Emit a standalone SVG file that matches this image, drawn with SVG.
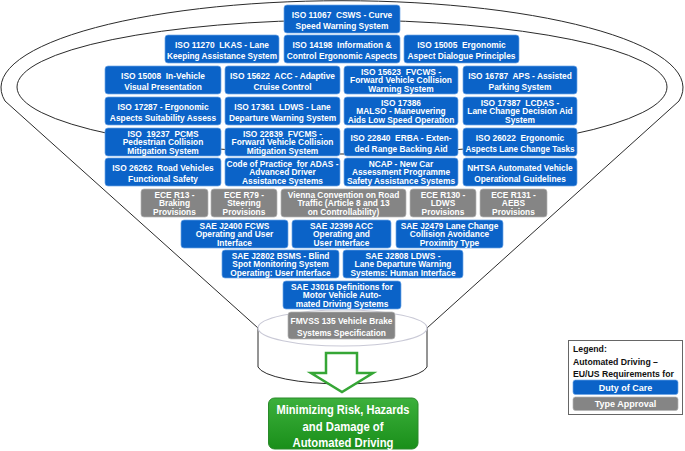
<svg xmlns="http://www.w3.org/2000/svg" width="685" height="451" viewBox="0 0 685 451">
<defs>
<linearGradient id="gg" x1="0" y1="0" x2="0" y2="1"><stop offset="0" stop-color="#3cb03c"/><stop offset="1" stop-color="#1a8f1a"/></linearGradient>
<style>
.b{fill:#0b63c8;stroke:#6ea6e6;stroke-width:0.7}
.g{fill:#858585;stroke:#b5b5b5;stroke-width:0.7}
.t{font-family:"Liberation Sans",Arial,sans-serif;font-weight:bold;font-size:8.4px;fill:#fff;text-anchor:middle;white-space:pre}
.ln{fill:none;stroke:#2b2b2b;stroke-width:1}
.lg{font-family:"Liberation Sans",Arial,sans-serif;font-weight:bold;font-size:8.7px;fill:#111}
</style>
</defs>
<rect width="685" height="451" fill="#fff"/>
<g id="funnel">
<path class="ln" d="M258 328 L5 101 A341 87 0 1 1 679 101 L427 328" fill="#fff"/>
<ellipse class="ln" cx="342" cy="87" rx="325" ry="67"/>
<path d="M258 328 L258 367 A85 19 0 0 0 427 367 L427 328" fill="#fff" stroke="#2b2b2b" stroke-width="1"/>
<ellipse cx="342.5" cy="328" rx="84.5" ry="18" fill="#fff" stroke="#c9c9d6" stroke-width="1.2"/>
</g>
<g id="iso11067"><rect class="b" x="284" y="5" width="116" height="28" rx="3"/><text class="t" x="342" y="17.6">ISO 11067  CSWS - Curve</text><text class="t" x="342" y="29.2">Speed Warning System</text></g>
<g id="iso11270"><rect class="b" x="165" y="35" width="114" height="28" rx="3"/><text class="t" x="222" y="47.6">ISO 11270  LKAS - Lane</text><text class="t" x="222" y="59.2" textLength="110" lengthAdjust="spacingAndGlyphs">Keeping Assistance System</text></g>
<g id="iso14198"><rect class="b" x="284" y="35" width="116" height="28" rx="3"/><text class="t" x="342" y="47.6">ISO 14198  Information &amp;</text><text class="t" x="342" y="59.2">Control Ergonomic Aspects</text></g>
<g id="iso15005"><rect class="b" x="404" y="35" width="115" height="28" rx="3"/><text class="t" x="461.5" y="47.6">ISO 15005  Ergonomic</text><text class="t" x="461.5" y="59.2">Aspect Dialogue Principles</text></g>
<g id="iso15008"><rect class="b" x="105" y="66" width="116" height="28" rx="3"/><text class="t" x="163" y="78.6">ISO 15008  In-Vehicle</text><text class="t" x="163" y="90.2">Visual Presentation</text></g>
<g id="iso15622"><rect class="b" x="225" y="66" width="115" height="28" rx="3"/><text class="t" x="282.5" y="78.6">ISO 15622  ACC - Adaptive</text><text class="t" x="282.5" y="90.2">Cruise Control</text></g>
<g id="iso15623"><rect class="b" x="344" y="66" width="114" height="28" rx="3"/><text class="t" x="401" y="74.6">ISO 15623  FVCWS -</text><text class="t" x="401" y="83.3">Forward Vehicle Collision</text><text class="t" x="401" y="92">Warning System</text></g>
<g id="iso16787"><rect class="b" x="463" y="66" width="114" height="28" rx="3"/><text class="t" x="520" y="78.6">ISO 16787  APS - Assisted</text><text class="t" x="520" y="90.2">Parking System</text></g>
<g id="iso17287"><rect class="b" x="105" y="97" width="116" height="28" rx="3"/><text class="t" x="163" y="109.6">ISO 17287 - Ergonomic</text><text class="t" x="163" y="121.2">Aspects Suitability Assess</text></g>
<g id="iso17361"><rect class="b" x="225" y="97" width="115" height="28" rx="3"/><text class="t" x="282.5" y="109.6">ISO 17361  LDWS - Lane</text><text class="t" x="282.5" y="121.2">Departure Warning System</text></g>
<g id="iso17386"><rect class="b" x="344" y="97" width="114" height="28" rx="3"/><text class="t" x="401" y="105.6">ISO 17386</text><text class="t" x="401" y="114.3">MALSO - Maneuvering</text><text class="t" x="401" y="123">Aids Low Speed Operation</text></g>
<g id="iso17387"><rect class="b" x="463" y="97" width="114" height="28" rx="3"/><text class="t" x="520" y="105.6">ISO 17387  LCDAS -</text><text class="t" x="520" y="114.3">Lane Change Decision Aid</text><text class="t" x="520" y="123">System</text></g>
<g id="iso19237"><rect class="b" x="105" y="128" width="116" height="28" rx="3"/><text class="t" x="163" y="136.6">ISO  19237  PCMS</text><text class="t" x="163" y="145.3">Pedestrian Collision</text><text class="t" x="163" y="154">Mitigation System</text></g>
<g id="iso22839"><rect class="b" x="225" y="128" width="115" height="28" rx="3"/><text class="t" x="282.5" y="136.6">ISO 22839  FVCMS -</text><text class="t" x="282.5" y="145.3">Forward Vehicle Collision</text><text class="t" x="282.5" y="154">Mitigation System</text></g>
<g id="iso22840"><rect class="b" x="344" y="128" width="114" height="28" rx="3"/><text class="t" x="401" y="140.6">ISO 22840  ERBA - Exten-</text><text class="t" x="401" y="152.2">ded Range Backing Aid</text></g>
<g id="iso26022"><rect class="b" x="463" y="128" width="114" height="28" rx="3"/><text class="t" x="520" y="140.6">ISO 26022  Ergonomic</text><text class="t" x="520" y="152.2" textLength="109" lengthAdjust="spacingAndGlyphs">Aspects Lane Change Tasks</text></g>
<g id="iso26262"><rect class="b" x="105" y="158" width="116" height="28" rx="3"/><text class="t" x="163" y="170.6">ISO 26262  Road Vehicles</text><text class="t" x="163" y="182.2">Functional Safety</text></g>
<g id="adas"><rect class="b" x="225" y="158" width="115" height="28" rx="3"/><text class="t" x="282.5" y="166.6" textLength="112" lengthAdjust="spacingAndGlyphs">Code of Practice  for ADAS -</text><text class="t" x="282.5" y="175.3">Advanced Driver</text><text class="t" x="282.5" y="184">Assistance Systems</text></g>
<g id="ncap"><rect class="b" x="344" y="158" width="114" height="28" rx="3"/><text class="t" x="401" y="166.6">NCAP - New Car</text><text class="t" x="401" y="175.3">Assessment Programme</text><text class="t" x="401" y="184">Safety Assistance Systems</text></g>
<g id="nhtsa"><rect class="b" x="463" y="158" width="114" height="28" rx="3"/><text class="t" x="520" y="170.6">NHTSA Automated Vehicle</text><text class="t" x="520" y="182.2">Operational Guidelines</text></g>
<g id="ecer13"><rect class="g" x="141" y="189" width="67" height="28" rx="3"/><text class="t" x="174.5" y="197.6">ECE R13 -</text><text class="t" x="174.5" y="206.3">Braking</text><text class="t" x="174.5" y="215">Provisions</text></g>
<g id="ecer79"><rect class="g" x="211" y="189" width="66" height="28" rx="3"/><text class="t" x="244" y="197.6">ECE R79 -</text><text class="t" x="244" y="206.3">Steering</text><text class="t" x="244" y="215">Provisions</text></g>
<g id="vienna"><rect class="g" x="281" y="189" width="125" height="28" rx="3"/><text class="t" x="343.5" y="197.6">Vienna Convention on Road</text><text class="t" x="343.5" y="206.3">Traffic (Article 8 and 13</text><text class="t" x="343.5" y="215">on Controllability)</text></g>
<g id="ecer130"><rect class="g" x="410" y="189" width="66" height="28" rx="3"/><text class="t" x="443" y="197.6">ECE R130 -</text><text class="t" x="443" y="206.3">LDWS</text><text class="t" x="443" y="215">Provisions</text></g>
<g id="ecer131"><rect class="g" x="480" y="189" width="67" height="28" rx="3"/><text class="t" x="513.5" y="197.6">ECE R131 -</text><text class="t" x="513.5" y="206.3">AEBS</text><text class="t" x="513.5" y="215">Provisions</text></g>
<g id="saej2400"><rect class="b" x="181" y="220" width="107" height="28" rx="3"/><text class="t" x="234.5" y="228.6">SAE J2400 FCWS</text><text class="t" x="234.5" y="237.3">Operating and User</text><text class="t" x="234.5" y="246">Interface</text></g>
<g id="saej2399"><rect class="b" x="292" y="220" width="99" height="28" rx="3"/><text class="t" x="341.5" y="228.6">SAE J2399 ACC</text><text class="t" x="341.5" y="237.3">Operating and</text><text class="t" x="341.5" y="246">User Interface</text></g>
<g id="saej2479"><rect class="b" x="396" y="220" width="107" height="28" rx="3"/><text class="t" x="449.5" y="228.6">SAE J2479 Lane Change</text><text class="t" x="449.5" y="237.3">Collision Avoidance</text><text class="t" x="449.5" y="246">Proximity Type</text></g>
<g id="saej2802"><rect class="b" x="222" y="250" width="117" height="28" rx="3"/><text class="t" x="280.5" y="258.6">SAE J2802 BSMS - Blind</text><text class="t" x="280.5" y="267.3">Spot Monitoring System</text><text class="t" x="280.5" y="276">Operating: User Interface</text></g>
<g id="saej2808"><rect class="b" x="343" y="250" width="120" height="28" rx="3"/><text class="t" x="403" y="258.6">SAE J2808 LDWS -</text><text class="t" x="403" y="267.3">Lane Departure Warning</text><text class="t" x="403" y="276">Systems: Human Interface</text></g>
<g id="saej3016"><rect class="b" x="283" y="281" width="118" height="28" rx="3"/><text class="t" x="342" y="289.6">SAE J3016 Definitions for</text><text class="t" x="342" y="298.3">Motor Vehicle Auto-</text><text class="t" x="342" y="307">mated Driving Systems</text></g>
<g id="fmvss135"><rect class="g" x="288" y="312" width="107" height="27" rx="3"/><text class="t" x="341.5" y="324.4">FMVSS 135 Vehicle Brake</text><text class="t" x="341.5" y="335.8">Systems Specification</text></g>
<g id="connectors">
<path d="M326 353 H357 V373 H373 L342 392 L311 373 H326 Z" fill="#fff" stroke="#36a636" stroke-width="2.5" stroke-linejoin="miter"/>
</g>
<g id="result"><rect x="268.5" y="398" width="149.5" height="51" rx="6" fill="url(#gg)" stroke="#2a8a2a" stroke-width="1"/>
<text class="t" x="343" y="413.5" style="font-size:13.5px" textLength="133" lengthAdjust="spacingAndGlyphs">Minimizing Risk, Hazards</text>
<text class="t" x="343" y="430.5" style="font-size:13.5px" textLength="81" lengthAdjust="spacingAndGlyphs">and Damage of</text>
<text class="t" x="343" y="447" style="font-size:13.5px" textLength="101" lengthAdjust="spacingAndGlyphs">Automated Driving</text></g>
<g id="legend">
<rect x="568.5" y="340.5" width="114" height="74" fill="#fff" stroke="#666" stroke-width="1"/>
<text class="lg" x="573" y="352">Legend:</text>
<text class="lg" x="573" y="364.5">Automated Driving –</text>
<text class="lg" x="573" y="377">EU/US Requirements for</text>
<rect class="b" x="573" y="380" width="105" height="14.5" rx="2.5"/>
<text class="t" x="625.5" y="390.6" style="font-size:9px">Duty of Care</text>
<rect class="g" x="573" y="397" width="105" height="13.5" rx="2.5"/>
<text class="t" x="625.5" y="407.2" style="font-size:9px">Type Approval</text>
</g>
</svg>
